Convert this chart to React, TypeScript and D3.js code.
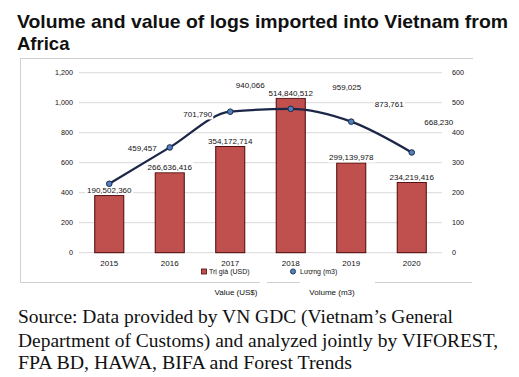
import React from "react";
import * as d3 from "d3";

const years = ["2015", "2016", "2017", "2018", "2019", "2020"];
const valueUSD = [190502360, 266636416, 354172714, 514840512, 299139978, 234219416];
const volumeM3 = [459457, 701790, 940066, 959025, 873761, 668230];
const leftTicks = [0, 200000, 400000, 600000, 800000, 1000000, 1200000];
const rightTicks = [0, 100e6, 200e6, 300e6, 400e6, 500e6, 600e6];
// layout offsets of the volume labels from their points (dx, dy)
const volLabelOffsets: [number, number][] = [
  [33, -36], [28, -33], [20, -26], [56, -22], [38, -17], [27, -30],
];

const W = 519, H = 377;
const plotL = 79, plotR = 442, plotT = 72.7, plotB = 252.7;

export default function App() {
  const x = d3.scaleBand<string>().domain(years).range([plotL, plotR]).paddingInner(0.52).paddingOuter(0.26);
  const yL = d3.scaleLinear().domain([0, 1200000]).range([plotB, plotT]);
  const yR = d3.scaleLinear().domain([0, 600e6]).range([plotB, plotT]);
  const fmt = d3.format(",");
  const line = d3.line<number>()
    .x((_, i) => (x(years[i]) as number) + x.bandwidth() / 2)
    .y((d) => yL(d))
    .curve(d3.curveMonotoneX);
  const font = "'Liberation Sans', Arial, sans-serif";
  const labelBg = (cx: number, cy: number, text: string, fs: number, key: string) => {
    const w = text.length * fs * 0.52;
    return (
      <g key={key}>
        <rect x={cx - w / 2 - 1} y={cy - fs / 2 - 1} width={w + 2} height={fs + 2} fill="#fff" />
        <text x={cx} y={cy} dy="0.35em" textAnchor="middle" fontSize={fs} fill="#111" fontFamily={font}>{text}</text>
      </g>
    );
  };
  return (
    <svg width={W} height={H} style={{ position: "absolute", left: 0, top: 0, background: "#fff" }}>
      <rect width={W} height={H} fill="#fff" />
      <text x={17} y={28} fontSize={18.5} fontWeight="bold" fontFamily={font} fill="#111" textLength={491} lengthAdjust="spacingAndGlyphs">
        Volume and value of logs imported into Vietnam from
      </text>
      <text x={17} y={50} fontSize={18.5} fontWeight="bold" fontFamily={font} fill="#111">Africa</text>

      {/* frame */}
      <g stroke="#d0d0d0" strokeWidth={1}>
        <line x1={20} x2={473} y1={58.5} y2={58.5} />
        <line x1={20.5} x2={20.5} y1={58} y2={282} />
        <line x1={20} x2={260} y1={282.5} y2={282.5} />
        <line x1={267} x2={300} y1={282.5} y2={282.5} />
        <line x1={375} x2={472} y1={282.5} y2={282.5} />
      </g>

      {/* grid */}
      {leftTicks.map((t) => (
        <line key={"g" + t} x1={plotL} x2={plotR} y1={yL(t)} y2={yL(t)} stroke="#d9d9d9" strokeWidth={1} />
      ))}
      {leftTicks.map((t) => (
        <text key={"l" + t} x={73} y={yL(t)} dy="0.35em" textAnchor="end" fontSize={7.2} fontFamily={font} fill="#111">
          {fmt(t / 1000)}
        </text>
      ))}
      {rightTicks.map((t) => (
        <text key={"r" + t} x={452} y={yR(t)} dy="0.35em" textAnchor="start" fontSize={7.2} fontFamily={font} fill="#111">
          {fmt(t / 1e6)}
        </text>
      ))}

      {/* bars */}
      {valueUSD.map((v, i) => (
        <rect key={"b" + i} x={x(years[i])} y={yR(v)} width={x.bandwidth()} height={plotB - yR(v)}
          fill="#c0504d" stroke="#4a0808" strokeWidth={1} />
      ))}
      {valueUSD.map((v, i) => labelBg((x(years[i]) as number) + x.bandwidth() / 2, yR(v) - 5.5, fmt(v), 8, "bl" + i))}

      {/* line */}
      <path d={line(volumeM3) || ""} fill="none" stroke="#1c2748" strokeWidth={2.2} />
      {volumeM3.map((v, i) => (
        <circle key={"c" + i} cx={(x(years[i]) as number) + x.bandwidth() / 2} cy={yL(v)} r={2.8}
          fill="#4f81bd" stroke="#1c2748" strokeWidth={1} />
      ))}
      {volumeM3.map((v, i) =>
        labelBg((x(years[i]) as number) + x.bandwidth() / 2 + volLabelOffsets[i][0], yL(v) + volLabelOffsets[i][1], fmt(v), 8, "vl" + i)
      )}

      {/* x labels */}
      {years.map((y) => (
        <text key={"x" + y} x={(x(y) as number) + x.bandwidth() / 2} y={263} dy="0.35em" textAnchor="middle" fontSize={8} fontFamily={font} fill="#111">
          {y}
        </text>
      ))}

      {/* legend */}
      <rect x={201.5} y={269} width={5} height={5} fill="#c0504d" stroke="#4a0808" strokeWidth={0.8} />
      <text x={209} y={271.5} dy="0.35em" fontSize={7} fontFamily={font} fill="#111">Trị giá (USD)</text>
      <circle cx={293} cy={271.5} r={2.6} fill="#4f81bd" stroke="#1c2748" strokeWidth={0.8} />
      <text x={300} y={271.5} dy="0.35em" fontSize={7} fontFamily={font} fill="#111">Lượng (m3)</text>

      <text x={236} y={292} dy="0.35em" textAnchor="middle" fontSize={8} fontFamily={font} fill="#111">Value (US$)</text>
      <text x={332} y={292} dy="0.35em" textAnchor="middle" fontSize={8} fontFamily={font} fill="#111">Volume (m3)</text>

      {/* source */}
      <g fontFamily="'Liberation Serif', 'Times New Roman', serif" fontSize={18} fill="#111">
        <text x={18} y={323} textLength={435} lengthAdjust="spacingAndGlyphs">Source: Data provided by VN GDC (Vietnam’s General</text>
        <text x={18} y={346.5} textLength={480} lengthAdjust="spacingAndGlyphs">Department of Customs) and analyzed jointly by VIFOREST,</text>
        <text x={18} y={369} textLength={334} lengthAdjust="spacingAndGlyphs">FPA BD, HAWA, BIFA and Forest Trends</text>
      </g>
    </svg>
  );
}
